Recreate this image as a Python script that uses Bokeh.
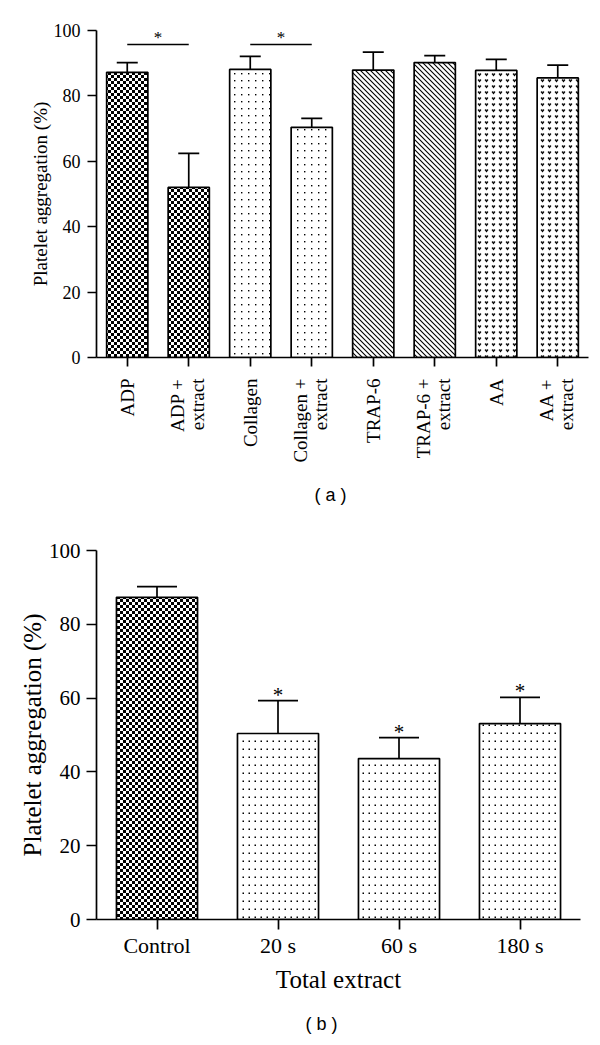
import math
from bokeh.plotting import figure
from bokeh.models import (FactorRange, Range1d, ColumnDataSource, Whisker, TeeHead,
                          CanvasTexture, SingleIntervalTicker, FixedTicker, Title,
                          CustomJSTickFormatter)
from bokeh.layouts import column
from bokeh.embed import file_html
from bokeh.resources import INLINE
from bokeh.core.properties import value

# ---------------- data: panel (a) ----------------
agonists_a = ["ADP", "ADP + extract", "Collagen", "Collagen + extract",
              "TRAP-6", "TRAP-6 + extract", "AA", "AA + extract"]
aggregation_a = [87.2, 52.0, 88.1, 70.4, 87.9, 90.2, 87.8, 85.5]
sem_a = [3.0, 10.4, 4.0, 2.7, 5.5, 2.1, 3.4, 3.9]
pattern_a = ["checker", "checker", "dots_a", "dots_a", "diag", "diag", "hearts", "hearts"]
sig_first_a = ["ADP", "Collagen"]
sig_second_a = ["ADP + extract", "Collagen + extract"]
sig_level_a = [95.7, 95.7]

# ---------------- data: panel (b) ----------------
groups_b = ["Control", "20 s", "60 s", "180 s"]
aggregation_b = [87.3, 50.4, 43.6, 53.1]
sem_b = [2.9, 8.9, 5.7, 7.1]
pattern_b = ["checker", "dots_b", "dots_b", "dots_b"]
significant_b = [False, True, True, True]

SERIF = "Liberation Serif"
INK = "#000000"

textures = {
    "checker": CanvasTexture(code="""
        ctx.canvas.width = 6; ctx.canvas.height = 6;
        ctx.fillStyle = '#000';
        ctx.fillRect(0, 0, 3, 3);
        ctx.fillRect(3, 3, 3, 3);
    """),
    "dots_a": CanvasTexture(code="""
        ctx.canvas.width = 7; ctx.canvas.height = 7;
        ctx.fillStyle = '#000';
        ctx.fillRect(3, 3, 1.4, 1.4);
    """),
    "dots_b": CanvasTexture(code="""
        ctx.canvas.width = 6; ctx.canvas.height = 8;
        ctx.fillStyle = '#000';
        ctx.fillRect(2.5, 3.5, 1.5, 1.5);
    """),
    "diag": CanvasTexture(code="""
        ctx.canvas.width = 5; ctx.canvas.height = 5;
        ctx.strokeStyle = '#000'; ctx.lineWidth = 1.1;
        ctx.beginPath();
        ctx.moveTo(-1, -1); ctx.lineTo(6, 6);
        ctx.moveTo(-1, 4); ctx.lineTo(1, 6);
        ctx.moveTo(4, -1); ctx.lineTo(6, 1);
        ctx.stroke();
    """),
    "hearts": CanvasTexture(code="""
        ctx.canvas.width = 7; ctx.canvas.height = 6;
        ctx.fillStyle = '#000';
        ctx.beginPath(); ctx.arc(2.6, 2.0, 0.85, 0, 2*Math.PI); ctx.fill();
        ctx.beginPath(); ctx.arc(4.4, 2.0, 0.85, 0, 2*Math.PI); ctx.fill();
        ctx.beginPath(); ctx.moveTo(1.8, 2.3); ctx.lineTo(5.2, 2.3); ctx.lineTo(3.5, 4.5); ctx.closePath(); ctx.fill();
    """),
}


def style_axes(p, tick_size, label_size, tick_out):
    for ax in (p.xaxis[0], p.yaxis[0]):
        ax.axis_line_width = 1.7
        ax.axis_line_color = INK
        ax.major_tick_line_width = 1.7
        ax.major_tick_line_color = INK
        ax.minor_tick_line_color = None
        ax.major_tick_out = tick_out
        ax.major_tick_in = 0
        ax.major_label_text_font = SERIF
        ax.major_label_text_color = INK
        ax.axis_label_text_font = SERIF
        ax.axis_label_text_font_style = "normal"
        ax.axis_label_text_font_size = label_size
        ax.axis_label_text_color = INK
        ax.axis_label_standoff = 0
    p.yaxis[0].major_label_text_font_size = tick_size
    p.xgrid.visible = False
    p.ygrid.visible = False
    p.outline_line_color = None


# ---------------- panel (a) ----------------
n_a = len(agonists_a)
pos_a = [i + 0.5 for i in range(n_a)]          # category centres on the axis scale

# two-line rotated tick labels: "X +" left of the tick, "extract" right of it
label_pos, label_txt = [], []
for c, name in zip(pos_a, agonists_a):
    if " + " in name:
        first, second = name.split(" + ")
        label_pos += [round(c - 0.19, 4), round(c + 0.15, 4)]
        label_txt += [first + " +", second]
    else:
        label_pos.append(c)
        label_txt.append(name)

p1 = figure(x_range=Range1d(0, n_a), y_range=Range1d(0, 100),
            frame_width=492, frame_height=327,
            min_border_left=87, min_border_right=21, min_border_top=30, min_border_bottom=163,
            output_backend="svg", toolbar_location=None)
style_axes(p1, "18px", "19px", 9)
p1.yaxis[0].ticker = SingleIntervalTicker(interval=20, num_minor_ticks=0)
p1.yaxis[0].axis_label = "Platelet aggregation (%)"
p1.yaxis[0].major_label_standoff = 7

xa = p1.xaxis[0]
xa.ticker = FixedTicker(ticks=label_pos, minor_ticks=pos_a)
xa.formatter = CustomJSTickFormatter(args=dict(keys=label_pos, texts=label_txt), code="""
    for (let i = 0; i < keys.length; i++) { if (Math.abs(keys[i] - tick) < 1e-6) return texts[i]; }
    return '';
""")
xa.major_tick_line_color = None
xa.minor_tick_line_color = INK
xa.minor_tick_line_width = 1.7
xa.minor_tick_out = 9
xa.minor_tick_in = 0
xa.major_label_orientation = math.pi / 2
xa.major_label_text_font_size = "19px"
xa.major_label_standoff = 12

src_a = ColumnDataSource(data=dict(
    x=pos_a, top=aggregation_a, upper=[v + e for v, e in zip(aggregation_a, sem_a)],
    pat=pattern_a))
p1.vbar(x="x", top="top", width=0.67, source=src_a, fill_color="white",
        line_color=INK, line_width=1.7, hatch_pattern="pat", hatch_color="black",
        hatch_extra=textures)
p1.add_layout(Whisker(base="x", lower="top", upper="upper", source=src_a,
                      line_color=INK, line_width=1.7,
                      upper_head=TeeHead(size=21, line_width=1.7, line_color=INK),
                      lower_head=None))

x0_sig = [pos_a[agonists_a.index(a)] for a in sig_first_a]
x1_sig = [pos_a[agonists_a.index(b)] for b in sig_second_a]
sig_src_a = ColumnDataSource(data=dict(
    x0=x0_sig, x1=x1_sig, xm=[(u + v) / 2 for u, v in zip(x0_sig, x1_sig)],
    y=sig_level_a, star=["*"] * len(sig_first_a)))
p1.segment(x0="x0", x1="x1", y0="y", y1="y", source=sig_src_a, line_color=INK, line_width=1.6)
p1.text(x="xm", y="y", text="star", source=sig_src_a, y_offset=-7,
        text_font=value(SERIF), text_font_size="17px", text_align="center",
        text_baseline="alphabetic", text_color=INK)

cap_a = Title(text="( a )", align="left", offset=218, text_font="Liberation Sans",
              text_font_size="18px", text_font_style="normal", standoff=34, text_color=INK)
p1.add_layout(cap_a, "below")

# ---------------- panel (b) ----------------
p2 = figure(x_range=FactorRange(factors=groups_b), y_range=Range1d(0, 100),
            frame_width=484, frame_height=369,
            min_border_left=96, min_border_right=20, min_border_top=29, min_border_bottom=126,
            output_backend="svg", toolbar_location=None)
style_axes(p2, "21px", "25px", 10)
p2.yaxis[0].ticker = SingleIntervalTicker(interval=20, num_minor_ticks=0)
p2.yaxis[0].axis_label = "Platelet aggregation (%)"
p2.yaxis[0].major_label_standoff = 6
p2.xaxis[0].axis_label = "Total extract"
p2.xaxis[0].major_label_text_font_size = "22px"
p2.xaxis[0].major_label_standoff = 3
p2.xaxis[0].axis_label_standoff = 5

src_b = ColumnDataSource(data=dict(
    x=groups_b, top=aggregation_b, upper=[v + e for v, e in zip(aggregation_b, sem_b)],
    pat=pattern_b))
p2.vbar(x="x", top="top", width=0.67, source=src_b, fill_color="white",
        line_color=INK, line_width=1.7, hatch_pattern="pat", hatch_color="black",
        hatch_extra=textures)
p2.add_layout(Whisker(base="x", lower="top", upper="upper", source=src_b,
                      line_color=INK, line_width=1.7,
                      upper_head=TeeHead(size=40, line_width=1.7, line_color=INK),
                      lower_head=None))

star_src_b = ColumnDataSource(data=dict(
    x=[g for g, s in zip(groups_b, significant_b) if s],
    y=[v + e for v, e, s in zip(aggregation_b, sem_b, significant_b) if s],
    star=["*" for s in significant_b if s]))
p2.text(x="x", y="y", text="star", source=star_src_b, y_offset=-6, text_font=value(SERIF),
        text_font_size="21px", text_align="center", text_baseline="alphabetic",
        text_color=INK)

cap_b = Title(text="( b )", align="left", offset=209, text_font="Liberation Sans",
              text_font_size="18px", text_font_style="normal", standoff=32, text_color=INK)
p2.add_layout(cap_b, "below")

layout = column(p1, p2, spacing=0)
open("out.html", "w").write(file_html(layout, INLINE))
